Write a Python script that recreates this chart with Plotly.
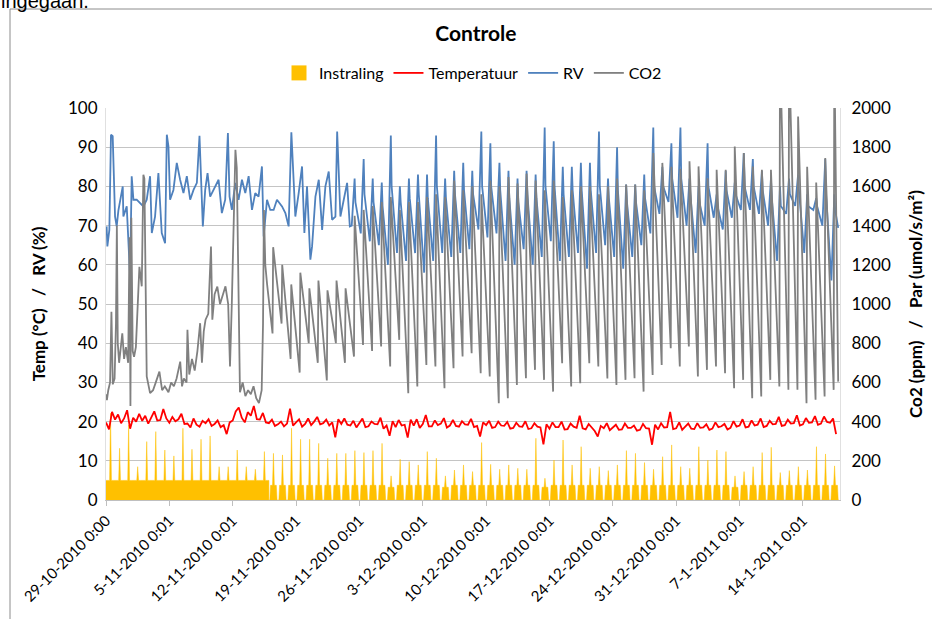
import numpy as np
import pandas as pd
import plotly.graph_objects as go

START = pd.Timestamp("2010-10-29 00:00")

# ---------------- data ----------------
# Instraling / PAR (umol/s/m2), one entry per day starting 29-10-2010
par_peak = [443, 264, 383, 170, 298, 349, 255, 225, 366, 259,
            310, 327, 170, 170, 255, 170, 157, 247, 238, 230,
            366, 310, 310, 289, 213, 238, 238, 252, 242, 252,
            289, 123, 208, 196, 179, 247, 213, 123, 153, 179,
            145, 293, 182, 157, 179, 162, 157, 315, 111, 204,
            306, 179, 272, 162, 170, 150, 179, 252, 238, 191,
            157, 221, 281, 170, 162, 272, 204, 255, 247, 123,
            145, 170, 242, 269, 140, 150, 170, 153, 272, 235,
            174]
par_night = [100, 100, 100, 100, 100, 100, 100, 100, 100, 100,
             100, 100, 100, 100, 100, 100, 100, 100, 0, 0,
             0, 0, 0, 0, 0, 0, 0, 0, 0, 0,
             0, 0, 0, 0, 0, 0, 0, 0, 0, 0,
             0, 0, 0, 0, 0, 0, 0, 0, 0, 0,
             0, 0, 0, 0, 0, 0, 0, 0, 0, 0,
             0, 0, 0, 0, 0, 0, 0, 0, 0, 0,
             0, 0, 0, 0, 0, 0, 0, 0, 0, 0,
             0]
par_shoulder = [100, 100, 100, 100, 100, 100, 100, 100, 100, 100,
                100, 100, 100, 100, 100, 100, 100, 100, 75, 75,
                75, 75, 75, 75, 75, 75, 75, 75, 75, 75,
                75, 65, 75, 75, 75, 75, 75, 65, 75, 75,
                75, 75, 75, 75, 75, 75, 75, 75, 65, 75,
                75, 75, 75, 75, 75, 75, 75, 75, 75, 75,
                75, 75, 75, 75, 75, 75, 75, 75, 75, 65,
                75, 75, 75, 75, 75, 75, 75, 75, 75, 75,
                75]

# Temperatuur (deg C), three readings per day (0h, 8h, 16h)
temperatuur = [
    19.8, 18.0, 22.5,  20.5, 21.8, 19.6,  20.8, 22.9, 18.2,  21.0, 20.0, 22.0,
    20.2, 21.5, 19.5,  21.2, 22.6, 20.3,  20.4, 23.2, 20.8,  19.7, 21.2, 20.1,
    20.6, 22.0, 19.4,  19.5, 18.5, 20.8,  19.2, 18.7, 20.2,  19.6, 20.6, 18.9,
    19.4, 20.3, 18.6,  19.1, 16.8, 19.8,  20.3, 22.6, 23.6,  21.0, 19.8, 22.4,
    21.5, 24.0, 20.6,  20.5, 22.2, 19.8,  19.6, 20.5, 18.9,  19.3, 20.0, 18.8,
    19.5, 23.3, 19.0,  19.8, 20.6, 18.7,  19.4, 20.8, 19.1,  20.0, 21.2, 19.3,
    19.6, 20.5, 19.0,  19.8, 16.0, 20.6,  19.4, 20.8, 19.2,  19.0, 20.2, 18.5,
    19.6, 20.8, 18.6,  18.8, 20.0, 19.4,  19.3, 21.0, 18.2,  19.0, 16.4, 20.1,
    18.6, 20.4, 19.0,  19.2, 15.9, 20.5,  19.0, 20.6, 18.4,  19.4, 21.7, 18.8,
    18.8, 20.3, 19.1,  19.5, 20.9, 18.5,  19.0, 20.4, 18.9,  18.7, 20.1, 19.3,
    19.2, 20.7, 18.6,  18.9, 16.2, 19.8,  19.1, 20.2, 18.4,  18.6, 20.0, 19.0,
    18.9, 19.9, 18.2,  18.4, 19.7, 18.8,  18.7, 20.1, 18.1,  18.3, 19.6, 18.7,
    18.5, 14.2, 19.3,  18.2, 19.8, 18.6,  18.6, 20.0, 18.0,  18.1, 19.5, 18.7,
    18.4, 21.5, 18.3,  18.0, 19.4, 18.6,  17.6, 16.2, 18.9,  18.3, 19.6, 17.8,
    18.5, 19.2, 17.9,  18.0, 19.5, 18.4,  18.4, 19.0, 17.7,  17.9, 19.4, 18.3,
    18.2, 14.1, 19.2,  18.0, 19.6, 18.5,  18.6, 22.5, 18.1,  18.3, 19.8, 17.9,
    18.7, 19.5, 18.2,  18.1, 19.6, 18.4,  18.5, 19.3, 17.9,  18.2, 19.8, 18.6,
    18.8, 19.4, 18.0,  18.4, 20.1, 18.7,  19.0, 20.6, 18.5,  18.7, 20.3, 19.0,
    19.2, 20.8, 18.6,  18.9, 20.2, 19.3,  19.4, 21.2, 18.9,  19.1, 20.5, 19.5,
    19.6, 21.6, 19.0,  19.3, 20.9, 19.7,  19.8, 21.4, 19.2,  19.5, 21.3, 19.9,
    19.7, 20.8, 16.8,
]

# RV (%) - irregular first period: (day offset, value)
rv_early_t = [0.07, 0.15, 0.37, 0.55, 0.74, 0.89, 1.0, 1.18, 1.37, 1.85,
              1.92, 2.29, 2.66, 2.84, 3.03, 3.39, 3.76, 4.13, 4.5, 4.87,
              5.06, 5.42, 5.79, 6.16, 6.53, 6.72, 6.9, 7.08, 7.45, 7.82,
              8.19, 8.56, 8.93, 9.3, 9.67, 10.04, 10.33, 10.48, 10.7, 10.96,
              11.22, 11.51, 12.07, 12.44, 12.8, 13.17, 13.47, 13.65, 13.91, 14.28,
              14.65, 15.02, 15.39, 15.76, 16.13, 16.49, 16.86, 17.23, 17.42, 17.79,
              18.15, 18.52, 18.89, 19.45, 19.82, 20.18, 20.48, 20.66, 20.92, 21.29,
              21.66, 21.92, 22.21, 22.58, 22.77, 23.14, 23.51, 23.88, 24.24, 24.61,
              24.98, 25.35, 25.54, 25.72, 25.9, 26.27, 26.64, 26.94]
rv_early_v = [69.8, 64.7, 68.9, 93.2, 92.8, 80.9, 72.3, 69.8, 73.9, 80.0,
              72.3, 74.9, 57.0, 82.6, 76.6, 76.6, 75.7, 74.9, 76.6, 82.6,
              68.1, 72.3, 83.4, 68.1, 65.5, 93.2, 90.2, 76.6, 79.1, 86.0,
              81.7, 78.3, 82.6, 76.6, 79.1, 80.9, 92.9, 85.1, 69.8, 79.1,
              83.4, 77.4, 80.0, 81.7, 73.2, 76.6, 93.6, 77.4, 74.0, 80.9,
              76.6, 81.7, 78.3, 82.6, 74.0, 78.3, 77.4, 85.1, 67.2, 76.6,
              74.0, 74.0, 76.6, 74.9, 73.2, 69.8, 93.8, 85.1, 72.3, 78.3,
              85.1, 68.1, 80.0, 61.3, 64.7, 77.4, 81.7, 68.9, 80.0, 83.8,
              71.5, 72.3, 94.0, 83.4, 72.3, 76.6, 80.9, 69.8]
# RV (%) - daily cycle from day 27 (26-11) to day 80
RV_FIRST_DAY = 27
rv_low = [70, 68, 66, 65, 60, 63, 61, 63, 58, 61,
          63, 62, 63, 64, 69, 67, 68, 61, 60, 64,
          60, 62, 66, 61, 62, 63, 59, 63, 65, 62,
          59, 62, 65, 68, 73, 76, 72, 70, 63, 70,
          72, 69, 72, 74, 74, 73, 70, 61, 73, 75,
          63, 74, 70, 56]
rv_high = [82, 87, 82, 81, 93, 80, 82, 83, 83, 93,
           82, 84, 86, 84, 94, 91, 86, 84, 82, 84,
           83, 95, 91.5, 85, 85, 86, 86, 94, 82, 90,
           80.5, 80.5, 83, 95, 85, 91, 95, 82, 80, 91,
           78, 84, 81, 88.5, 87, 84, 82, 80, 82, 83,
           78, 77, 87, 78]
rv_after = [76, 78, 76, 75, 80, 76, 77, 78, 77, 80,
            77, 78, 79, 78, 80, 80, 79, 77, 76, 78,
            77, 80, 80, 78, 79, 79, 79, 80, 77, 79,
            76, 76, 77, 80, 80, 82, 82, 78, 76, 80,
            75, 79, 78, 80, 80, 79, 77, 75, 78, 79,
            75, 75, 78, 74]
rv_end = (80.9, 69.4)

# CO2 (ppm) - irregular first period: (day offset, value)
co2_early_t = [0.0, 0.1, 0.25, 0.45, 0.6, 0.75, 0.95, 1.1, 1.2, 1.3,
               1.45, 1.6, 1.8, 2.0, 2.2, 2.45, 2.6, 2.7, 2.8, 2.95,
               3.1, 3.3, 3.69, 3.95, 4.13, 4.24, 4.5, 4.87, 5.2, 5.5,
               5.9, 6.2, 6.5, 6.9, 7.2, 7.5, 7.8, 8.2, 8.4, 8.6,
               8.9, 9.0, 9.2, 9.5, 9.8, 10.1, 10.4, 10.6, 10.8, 11.0,
               11.3, 11.6, 11.75, 12.0, 12.3, 12.6, 12.9, 13.2, 13.5, 13.7,
               13.9, 14.1, 14.3, 14.45, 14.65, 14.8, 15.1, 15.4, 15.7, 16.0,
               16.3, 16.6, 16.9, 17.2, 17.35, 17.45, 17.6, 17.8]
co2_early_v = [540, 510, 560, 600, 960, 590, 620, 900, 1400, 800,
               700, 760, 850, 720, 780, 700, 1340, 480, 1440, 760,
               730, 780, 1190, 1090, 1660, 1640, 630, 545, 560, 600,
               655, 560, 580, 550, 600, 580, 620, 706, 580, 620,
               600, 868, 640, 720, 660, 760, 902, 700, 860, 920,
               950, 1293, 920, 1050, 1089, 1000, 1050, 1090, 1000, 681,
               1000, 1362, 1787, 1694, 1090, 550, 600, 530, 560, 540,
               580, 520, 494, 560, 900, 1480, 1200, 1100]
# CO2 (ppm) - daily low / high from day 18 (16-11) to day 80
CO2_FIRST_DAY = 18
co2_low = [850, 900, 720, 650, 800, 700, 610, 800, 700,
           732, 791, 760, 783, 681, 817, 545, 579, 689, 681,
           570, 672, 732, 749, 647, 630, 494, 519, 587, 621,
           664, 613, 553, 698, 579, 596, 698, 681, 620, 587,
           613, 621, 553, 638, 689, 774, 681, 783, 630, 664,
           681, 647, 570, 613, 519, 528, 613, 579, 562, 562,
           494, 511, 528, 562]
co2_high = [1290, 1200, 1100, 1160, 1080, 1120, 1070, 1120, 1080,
            1450, 1480, 1500, 1520, 1546, 1480, 1520, 1520, 1546, 1560,
            1546, 1630, 1580, 1600, 1560, 1630, 1600, 1648, 1615, 1665,
            1630, 1580, 1630, 1546, 1580, 1600, 1600, 1560, 1600, 1640,
            1610, 1610, 1580, 1770, 1720, 1700, 1690, 1728, 1702, 1642,
            1685, 1685, 1804, 1770, 1702, 1685, 1685, 2300, 2300, 1957,
            1700, 1620, 1745, 2300]
co2_end = (80.9, 604)

tick_labels = ["29-10-2010 0:00", "5-11-2010 0:01", "12-11-2010 0:01", "19-11-2010 0:01",
               "26-11-2010 0:01", "3-12-2010 0:01", "10-12-2010 0:01", "17-12-2010 0:01",
               "24-12-2010 0:01", "31-12-2010 0:01", "7-1-2011 0:01", "14-1-2011 0:01"]


def to_dt(days):
    return START + pd.to_timedelta(np.asarray(days, dtype=float), unit="D")


# ---------------- build the series ----------------
par_t, par_v = [], []
for d, (night, sh, pk) in enumerate(zip(par_night, par_shoulder, par_peak)):
    offs = [0.0, 0.10, 0.18, 0.40, 0.5, 0.60, 0.82, 0.90, 0.999]
    vals = [night, night, sh, sh, pk, sh, sh, night, night]
    par_t += [d + o for o in offs]
    par_v += vals

temp_t = [i / 3.0 for i in range(len(temperatuur))]

rv_t = list(rv_early_t)
rv_v = list(rv_early_v)
for i, (lo, hi, af) in enumerate(zip(rv_low, rv_high, rv_after)):
    d = RV_FIRST_DAY + i
    rv_t += [d + 0.15, d + 0.47, d + 0.56]
    rv_v += [lo, hi, af]
rv_t.append(rv_end[0])
rv_v.append(rv_end[1])

co2_t = list(co2_early_t)
co2_v = list(co2_early_v)
for i, (lo, hi) in enumerate(zip(co2_low, co2_high)):
    d = CO2_FIRST_DAY + i
    co2_t += [d + 0.40, d + 0.47]
    co2_v += [lo, hi]
co2_t.append(co2_end[0])
co2_v.append(co2_end[1])

tick_vals = [START + pd.Timedelta(days=7 * k, minutes=(0 if k == 0 else 1))
             for k in range(len(tick_labels))]

FONT = "Lato, Carlito, Calibri, 'Liberation Sans', sans-serif"
NB = "\u00a0"

fig = go.Figure()
fig.add_trace(go.Scatter(x=to_dt(par_t), y=par_v, name="Instraling", mode="lines",
                         line=dict(color="#FFC000", width=0.5), fill="tozeroy",
                         fillcolor="#FFC000", yaxis="y", showlegend=False))
# legend swatch for Instraling (square box as in the reference)
fig.add_trace(go.Scatter(x=[None], y=[None], name="Instraling", mode="markers",
                         marker=dict(symbol="square", size=15, color="#FFC000"),
                         yaxis="y", showlegend=True))
fig.add_trace(go.Scatter(x=to_dt(temp_t), y=temperatuur, name="Temperatuur", mode="lines",
                         line=dict(color="#FF0000", width=1.8), yaxis="y2"))
fig.add_trace(go.Scatter(x=to_dt(rv_t), y=rv_v, name="RV", mode="lines",
                         line=dict(color="#4F81BD", width=1.8), yaxis="y2"))
fig.add_trace(go.Scatter(x=to_dt(co2_t), y=co2_v, name="CO2", mode="lines",
                         line=dict(color="#808080", width=1.8), yaxis="y3"))

left_title = f"<b>Temp (°C){NB}{NB}{NB}/{NB}{NB}{NB}RV (%)</b>"
right_title = f"<b>Co2 (ppm){NB}{NB}{NB}/{NB}{NB}{NB}Par (umol/s/m²)</b>"

fig.update_layout(
    width=932, height=619,
    margin=dict(l=106, r=92, t=108, b=119, autoexpand=False),
    paper_bgcolor="white", plot_bgcolor="white",
    font=dict(family=FONT, size=15, color="#000000"),
    title=dict(text="<b>Controle</b>", x=0.504, xref="paper", xanchor="center",
               y=1 - 34 / 619, yref="container", yanchor="middle",
               font=dict(family=FONT, size=21, color="#000000")),
    showlegend=True,
    legend=dict(orientation="h", x=0.5, xanchor="center", y=(500 - 73) / 392,
                yref="paper", yanchor="middle", font=dict(family=FONT, size=16),
                bgcolor="rgba(0,0,0,0)", itemwidth=30, traceorder="normal"),
    xaxis=dict(type="date",
               range=[START, START + pd.Timedelta(days=81.1)],
               tickvals=tick_vals, ticktext=tick_labels, tickangle=-45,
               ticks="outside", ticklen=5, tickcolor="#BFBFBF",
               showline=True, linecolor="#BFBFBF", linewidth=1,
               showgrid=False, zeroline=False,
               tickfont=dict(family=FONT, size=15, color="#000000")),
    yaxis=dict(range=[0, 2000], tickvals=list(range(0, 2001, 200)), side="right",
               showgrid=True, gridcolor="#C4C4C4", gridwidth=1, zeroline=False,
               showline=True, linecolor="#E0E0E0", ticks="", ticklabelstandoff=7,
               tickfont=dict(family=FONT, size=17, color="#000000"),
               title=dict(text=right_title, standoff=20,
                          font=dict(family=FONT, size=17, color="#000000"))),
    yaxis2=dict(range=[0, 100], tickvals=list(range(0, 101, 10)), side="left",
                overlaying="y", showgrid=False, zeroline=False,
                showline=True, linecolor="#E0E0E0", ticks="", ticklabelstandoff=4,
                tickfont=dict(family=FONT, size=17, color="#000000"),
                title=dict(text=left_title, standoff=18,
                           font=dict(family=FONT, size=17, color="#000000"))),
    yaxis3=dict(range=[0, 2000], overlaying="y", side="right", visible=False),
    annotations=[dict(text="ingegaan.", xref="paper", yref="paper",
                      x=(-1 - 106) / 734, y=(500 - 14) / 392, xanchor="left", yanchor="bottom",
                      showarrow=False,
                      font=dict(family="Liberation Sans, Arial", size=20, color="#000000"))],
    shapes=[dict(type="rect", xref="paper", yref="paper",
                 x0=(10 - 106) / 734, x1=(940 - 106) / 734,
                 y0=(500 - 630) / 392, y1=(500 - 9) / 392,
                 line=dict(color="#8C8C8C", width=1), fillcolor="rgba(0,0,0,0)", layer="below")],
)

fig.write_html("out.html", config={"displayModeBar": False},
               post_script="document.body.style.margin='0';")
